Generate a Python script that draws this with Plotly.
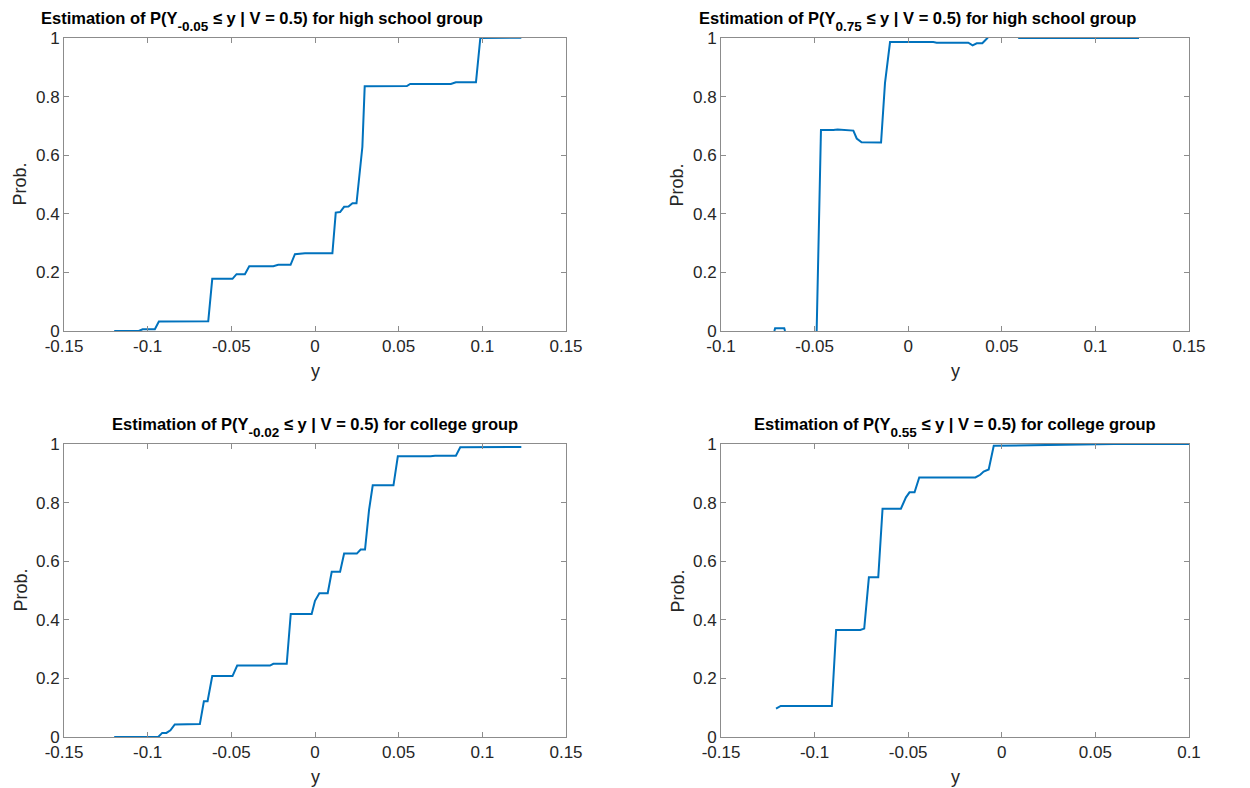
import plotly.graph_objects as go

# ---- data ----
hs_a_x = [-0.1200, -0.1053, -0.1030, -0.0957, -0.0933, -0.0638, -0.0614, -0.0493, -0.0469, -0.0419,
          -0.0393, -0.0249, -0.0220, -0.0146, -0.0120, -0.0060, 0.0104, 0.0124, 0.0150, 0.0174,
          0.0200, 0.0224, 0.0248, 0.0273, 0.0283, 0.0297, 0.0549, 0.0569, 0.0812, 0.0842,
          0.0962, 0.0988, 0.1233]
hs_a_y = [0.000, 0.000, 0.006, 0.006, 0.032, 0.033, 0.178, 0.178, 0.194, 0.194,
          0.221, 0.221, 0.226, 0.226, 0.262, 0.265, 0.265, 0.404, 0.406, 0.424,
          0.425, 0.436, 0.436, 0.559, 0.628, 0.835, 0.836, 0.843, 0.843, 0.849,
          0.849, 1.000, 1.001]

hs_b_x = [-0.0715, -0.0711, -0.0662, -0.0658, None, -0.0489, -0.0466, -0.0400, -0.0377, -0.0293,
          -0.0275, -0.0249, -0.0145, -0.0124, -0.0097, 0.0134, 0.0152, 0.0321, 0.0344, 0.0366,
          0.0396, 0.0423, 0.0440, 0.0575, 0.0592, 0.1233]
hs_b_y = [0.000, 0.009, 0.009, 0.000, None, 0.000, 0.686, 0.686, 0.688, 0.684,
          0.657, 0.644, 0.643, 0.846, 0.986, 0.986, 0.984, 0.984, 0.975, 0.982,
          0.982, 1.000, 1.015, 1.015, 1.000, 1.000]

co_a_x = [-0.1200, -0.0937, -0.0913, -0.0888, -0.0864, -0.0838, -0.0688, -0.0664, -0.0642, -0.0614,
          -0.0493, -0.0465, -0.0269, -0.0249, -0.0169, -0.0145, -0.0020, 0.0000, 0.0026, 0.0076,
          0.0100, 0.0150, 0.0174, 0.0250, 0.0273, 0.0299, 0.0323, 0.0345, 0.0469, 0.0495,
          0.0690, 0.0718, 0.0842, 0.0868, 0.1233]
co_a_y = [0.000, 0.000, 0.014, 0.014, 0.023, 0.043, 0.044, 0.122, 0.122, 0.208,
          0.208, 0.244, 0.244, 0.250, 0.250, 0.420, 0.420, 0.465, 0.491, 0.491,
          0.564, 0.564, 0.626, 0.626, 0.640, 0.640, 0.775, 0.859, 0.859, 0.958,
          0.958, 0.960, 0.960, 0.989, 0.990]

co_b_x = [-0.1206, -0.1181, -0.0908, -0.0885, -0.0756, -0.0735, -0.0710, -0.0660, -0.0637, -0.0539,
          -0.0512, -0.0493, -0.0466, -0.0441, -0.0141, -0.0115, -0.0097, -0.0070, -0.0043, 0.0064,
          0.0331, 0.0599, 0.1000]
co_b_y = [0.097, 0.106, 0.106, 0.365, 0.365, 0.370, 0.545, 0.545, 0.779, 0.779,
          0.818, 0.835, 0.835, 0.886, 0.886, 0.895, 0.906, 0.913, 0.994, 0.995,
          0.998, 1.000, 1.000]

x_tick_vals_a = [-0.15, -0.1, -0.05, 0, 0.05, 0.1, 0.15]
x_tick_text_a = ["-0.15", "-0.1", "-0.05", "0", "0.05", "0.1", "0.15"]
x_tick_vals_b = [-0.1, -0.05, 0, 0.05, 0.1, 0.15]
x_tick_text_b = ["-0.1", "-0.05", "0", "0.05", "0.1", "0.15"]
x_tick_vals_c = [-0.15, -0.1, -0.05, 0, 0.05, 0.1]
x_tick_text_c = ["-0.15", "-0.1", "-0.05", "0", "0.05", "0.1"]
y_tick_vals = [0, 0.2, 0.4, 0.6, 0.8, 1]
y_tick_text = ["0", "0.2", "0.4", "0.6", "0.8", "1"]

subs = ["-0.05", "0.75", "-0.02", "0.55"]
groups = ["high school group", "high school group", "college group", "college group"]


def make_title(sub, group):
    return ("<b>Estimation of P(Y<sub><span style=\"font-size:13.5px;baseline-shift:-4px\">"
            + sub + "</span></sub> \u2264 y | V = 0.5) for " + group + "</b>")


# page body has an 8px margin: figure is placed at (8, 8) in the window
OFF = 8
W, H = 1250 - OFF, 788 - OFF
LINE = "#0072BD"
TXT = "#262626"
BOX = "#8c8c8c"
FONT = "Liberation Sans, Arial, Helvetica, sans-serif"


def px(xp):
    return (xp - OFF) / W


def py(yp):
    return 1 - (yp - OFF) / H


# window-pixel boxes (left, right, top, bottom)
boxes = [(64, 566, 38, 331), (721, 1189, 38, 331), (64, 566, 444, 737), (721, 1189, 444, 737)]
xranges = [[-0.15, 0.15], [-0.1, 0.15], [-0.15, 0.15], [-0.15, 0.1]]
xticks = [(x_tick_vals_a, x_tick_text_a), (x_tick_vals_b, x_tick_text_b),
          (x_tick_vals_a, x_tick_text_a), (x_tick_vals_c, x_tick_text_c)]
series = [(hs_a_x, hs_a_y), (hs_b_x, hs_b_y), (co_a_x, co_a_y), (co_b_x, co_b_y)]
title_cx = [262, 917, 315, 955]

fig = go.Figure()
layout = dict(
    template="none",
    width=W, height=H, margin=dict(l=0, r=0, t=0, b=0, autoexpand=False),
    paper_bgcolor="white", plot_bgcolor="white", showlegend=False,
    font=dict(family=FONT, color=TXT, size=17),
)
annotations = []
for i, ((l, r, t, b), xr, (tv, tt), (sx, sy)) in enumerate(zip(boxes, xranges, xticks, series)):
    n = "" if i == 0 else str(i + 1)
    fig.add_trace(go.Scatter(x=sx, y=sy, mode="lines", line=dict(color=LINE, width=2),
                             connectgaps=False, xaxis="x" + n, yaxis="y" + n, hoverinfo="skip"))
    common = dict(showline=True, mirror="ticks", linecolor=BOX, linewidth=1, ticks="inside",
                  ticklen=5, tickcolor=BOX, showgrid=False, zeroline=False, automargin=False,
                  tickfont=dict(size=17, color=TXT, family=FONT))
    layout["xaxis" + n] = dict(domain=[px(l), px(r)], range=xr, anchor="y" + n,
                               tickvals=tv, ticktext=tt, **common)
    layout["yaxis" + n] = dict(domain=[py(b), py(t)], range=[0, 1], anchor="x" + n,
                               tickvals=y_tick_vals, ticktext=y_tick_text, **common)
    annotations.append(dict(text=make_title(subs[i], groups[i]), x=px(title_cx[i]),
                            y=py(t - 17), xref="paper",
                            yref="paper", xanchor="center", yanchor="middle", showarrow=False,
                            font=dict(size=16.5, color="black", family=FONT)))
    annotations.append(dict(text="y", x=px((l + r) / 2), y=py(b + 40), xref="paper",
                            yref="paper", xanchor="center", yanchor="middle", showarrow=False,
                            font=dict(size=18, color=TXT, family=FONT)))
    annotations.append(dict(text="Prob.", x=px(l - 44), y=py((t + b) / 2), xref="paper",
                            yref="paper", xanchor="center", yanchor="middle", showarrow=False,
                            textangle=-90, font=dict(size=18, color=TXT, family=FONT)))
layout["annotations"] = annotations
fig.update_layout(**layout)
fig.write_html("out.html")
